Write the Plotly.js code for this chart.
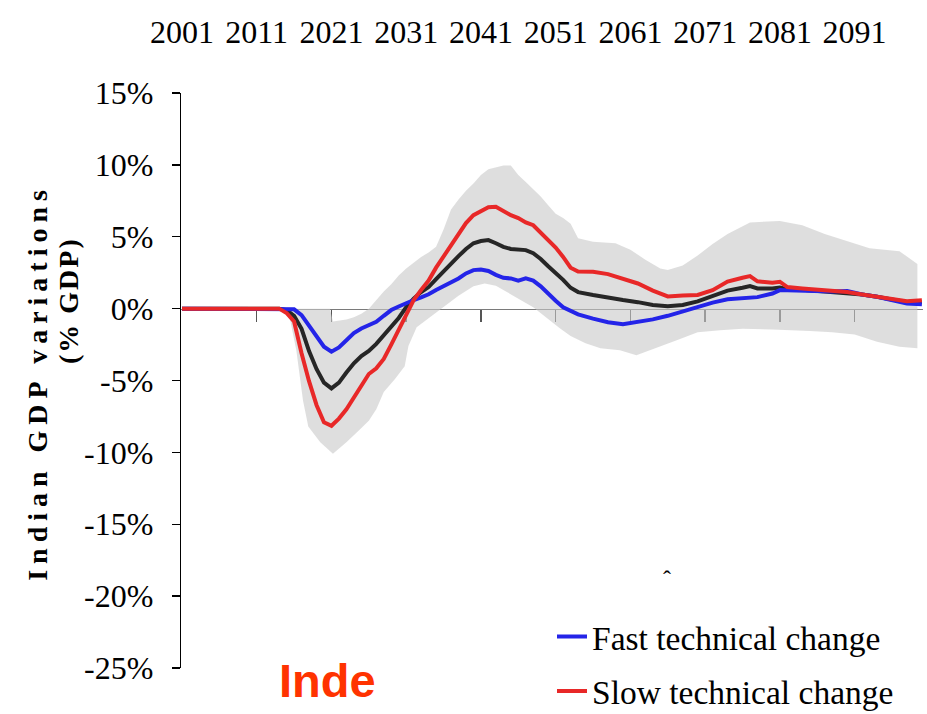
<!DOCTYPE html>
<html>
<head>
<meta charset="utf-8">
<script src="https://cdn.plot.ly/plotly-3.0.1.min.js"></script>
<style>body{margin:0;background:#fff}#chart{width:927px;height:714px}</style>
</head>
<body>
<div id="chart"></div>
<script>
// ---- data ----
const years = [2001, 2014, 2015, 2016, 2017, 2018, 2019, 2020, 2021, 2022, 2023, 2024, 2025, 2026, 2027, 2028, 2029, 2030,
  2031, 2032, 2033, 2034, 2035, 2036, 2037, 2038, 2039, 2040, 2041, 2042, 2043, 2044, 2045, 2046, 2047, 2048, 2049, 2050,
  2051, 2052, 2053, 2054, 2056, 2058, 2060, 2062, 2064, 2066, 2068, 2070, 2072, 2074, 2076, 2077, 2078, 2080, 2081, 2082,
  2084, 2086, 2088, 2090, 2092, 2094, 2096, 2098, 2100];

const slowChange = [0, 0, -0.3, -0.9, -3.1, -5.05, -6.7, -7.9, -8.15, -7.65, -7.0, -6.15, -5.3, -4.55, -4.15, -3.5, -2.5, -1.5,
  -0.45, 0.6, 1.3, 1.95, 2.85, 3.65, 4.4, 5.2, 5.95, 6.5, 6.8, 7.05, 7.08, 6.75, 6.5, 6.3, 6.0, 5.8, 5.3, 4.75,
  4.25, 3.6, 2.85, 2.58, 2.56, 2.4, 2.05, 1.75, 1.25, 0.85, 0.92, 0.95, 1.28, 1.88, 2.15, 2.26, 1.9, 1.8, 1.87, 1.5,
  1.4, 1.3, 1.2, 1.15, 0.98, 0.83, 0.65, 0.52, 0.58];

const centralCase = [0, 0, -0.1, -0.5, -1.4, -2.95, -4.2, -5.15, -5.55, -5.15, -4.45, -3.8, -3.3, -2.95, -2.45, -1.85, -1.2, -0.65,
  0.1, 0.7, 1.15, 1.5, 2.05, 2.6, 3.1, 3.65, 4.15, 4.55, 4.7, 4.77, 4.55, 4.3, 4.15, 4.08, 4.07, 3.85, 3.45, 2.95,
  2.5, 2.0, 1.45, 1.15, 0.95, 0.75, 0.6, 0.45, 0.25, 0.17, 0.25, 0.5, 0.85, 1.25, 1.45, 1.57, 1.4, 1.4, 1.47, 1.35,
  1.32, 1.25, 1.18, 1.12, 0.98, 0.83, 0.63, 0.45, 0.45];

const fastChange = [0, 0, 0, -0.05, -0.45, -1.15, -1.95, -2.65, -3.0, -2.7, -2.2, -1.7, -1.38, -1.17, -0.92, -0.5, -0.1, 0.15,
  0.4, 0.6, 0.78, 1.0, 1.3, 1.55, 1.8, 2.1, 2.45, 2.68, 2.72, 2.62, 2.35, 2.14, 2.1, 1.95, 2.1, 1.95, 1.55, 1.0,
  0.55, 0.1, -0.15, -0.4, -0.7, -0.95, -1.08, -0.95, -0.75, -0.5, -0.2, 0.15, 0.42, 0.65, 0.72, 0.75, 0.8, 1.05, 1.29, 1.27,
  1.24, 1.2, 1.2, 1.22, 0.98, 0.82, 0.6, 0.35, 0.31];

const bandUpperYears = [2014.6, 2016, 2018, 2020.8, 2021.2, 2022, 2023, 2024, 2025, 2026, 2027, 2028, 2029, 2030, 2031, 2032,
  2033, 2034, 2035, 2036, 2037, 2038, 2039, 2040, 2041, 2042, 2043, 2044, 2045, 2046, 2047, 2048, 2049, 2050, 2051, 2052,
  2053, 2054, 2056, 2059, 2061, 2063, 2065, 2066, 2068, 2070, 2072, 2074, 2077, 2081, 2084, 2087, 2090, 2093, 2097, 2099.4];
const bandUpper = [0, 0, 0, 0, -0.9, -0.85, -0.75, -0.6, -0.35, 0.0, 0.6, 1.2, 1.7, 2.3, 2.8, 3.2,
  3.6, 3.9, 4.3, 5.5, 6.9, 7.6, 8.2, 8.7, 9.3, 9.7, 9.85, 9.95, 9.95, 9.3, 8.8, 8.3, 7.8, 7.2, 6.6, 6.3,
  5.9, 4.9, 4.65, 4.55, 4.1, 3.4, 2.8, 2.68, 3.0, 3.7, 4.5, 5.2, 6.0, 6.1, 5.8, 5.2, 4.7, 4.2, 4.0, 3.1];

const bandLowerYears = [2014.6, 2015.4, 2016.3, 2017.2, 2017.9, 2019.5, 2021.2, 2023, 2024.8, 2026, 2027, 2028, 2029.5, 2030.8,
  2031.3, 2032.4, 2034.2, 2036, 2038, 2040, 2041.5, 2043, 2045, 2047, 2048, 2050, 2051.6, 2053, 2055, 2057, 2059.6, 2061.8,
  2064.5, 2067.2, 2070, 2073, 2076, 2080, 2085, 2088, 2091, 2094, 2097, 2099.4];
const bandLower = [0, -0.6, -2.9, -6.4, -8.2, -9.3, -10.1, -9.3, -8.4, -7.8, -7.0, -5.8, -4.9, -4.0,
  -2.6, -1.3, -0.6, 0.1, 0.9, 1.55, 1.75, 1.6, 1.0, 0.4, 0.1, -0.7, -1.38, -1.9, -2.4, -2.75, -2.9, -3.25,
  -2.75, -2.2, -1.65, -1.5, -1.4, -1.45, -1.55, -1.65, -1.8, -2.3, -2.65, -2.75];

const topTickYears = [2001, 2011, 2021, 2031, 2041, 2051, 2061, 2071, 2081, 2091];
const topTickLabels = ['2001', '2011', '2021', '2031', '2041', '2051', '2061', '2071', '2081', '2091'];
const zeroTickYears = [2011, 2021, 2031, 2041, 2051, 2061, 2071, 2081, 2091];
const yTickValues = [-25, -20, -15, -10, -5, 0, 5, 10, 15];
const yTickLabels = ['-25%', '-20%', '-15%', '-10%', '-5%', '0%', '5%', '10%', '15%'];
const seriesNames = ['Fast technical change', 'Slow technical change'];

// ---- chart ----
const serif = '"Liberation Serif", "DejaVu Serif", serif';
const xRange = [2000.87, 2100.15];

const traces = [
  {
    x: bandUpperYears.concat(bandLowerYears.slice().reverse()),
    y: bandUpper.concat(bandLower.slice().reverse()),
    type: 'scatter', mode: 'lines', fill: 'toself',
    fillcolor: 'rgba(200,200,200,0.6)', line: {width: 0},
    showlegend: false, hoverinfo: 'skip'
  },
  {x: [], y: [], xaxis: 'x2', type: 'scatter', mode: 'lines', showlegend: false, hoverinfo: 'skip'},
  {
    x: years, y: centralCase, type: 'scatter', mode: 'lines',
    line: {color: '#262626', width: 4}, showlegend: false
  },
  {
    x: years, y: fastChange, type: 'scatter', mode: 'lines', name: seriesNames[0],
    legendgroup: 'a', line: {color: '#2424E8', width: 4}
  },
  {
    x: years, y: slowChange, type: 'scatter', mode: 'lines', name: seriesNames[1],
    legendgroup: 'b', line: {color: '#E82828', width: 4}
  }
];

const layout = {
  width: 927, height: 714,
  margin: {l: 181, r: 4, t: 93, b: 46, autoexpand: false},
  paper_bgcolor: '#fff', plot_bgcolor: 'rgba(0,0,0,0)',
  font: {family: serif, color: '#000'},
  xaxis: {
    range: xRange, side: 'top', showline: false, showgrid: false, zeroline: false,
    tickmode: 'array', tickvals: topTickYears, ticktext: topTickLabels, ticks: '',
    tickfont: {family: serif, size: 32, color: '#000'}, ticklabelstandoff: 43
  },
  xaxis2: {
    range: xRange, overlaying: 'x', anchor: 'free', position: 0.625, side: 'bottom',
    showline: true, linecolor: '#7a7a7a', linewidth: 1.5, showgrid: false, zeroline: false,
    tickmode: 'array', tickvals: zeroTickYears, ticks: 'outside', ticklen: 12, tickwidth: 1.5,
    tickcolor: '#555', showticklabels: false, layer: 'below traces'
  },
  yaxis: {
    range: [-25, 15], showgrid: false, zeroline: false,
    showline: true, linecolor: '#000', linewidth: 1.3,
    ticks: 'outside', ticklen: 8, tickcolor: '#000', tickwidth: 1.3,
    tickmode: 'array', tickvals: yTickValues, ticktext: yTickLabels,
    tickfont: {family: serif, size: 32, color: '#000'}, ticklabelstandoff: 12,
    layer: 'below traces'
  },
  showlegend: true,
  legend: {
    x: 0.5, y: 0.104, xanchor: 'left', yanchor: 'top',
    bgcolor: 'rgba(0,0,0,0)', font: {family: serif, size: 33.5, color: '#000'},
    traceorder: 'grouped', tracegroupgap: 8
  },
  annotations: [
    {
      text: '<b>Indian GDP variations</b>', textangle: -90, xref: 'paper', yref: 'paper',
      x: -0.1927, y: 0.496, xanchor: 'center', yanchor: 'middle', showarrow: false,
      font: {family: serif, size: 28, color: '#000'}
    },
    {
      text: '<b>(% GDP)</b>', textangle: -90, xref: 'paper', yref: 'paper',
      x: -0.1523, y: 0.64, xanchor: 'center', yanchor: 'middle', showarrow: false,
      font: {family: serif, size: 28, color: '#000'}
    },
    {
      text: '<b>Inde</b>', xref: 'paper', yref: 'paper',
      x: 0.197, y: -0.021, xanchor: 'center', yanchor: 'middle', showarrow: false,
      font: {family: '"Liberation Sans", Arial, sans-serif', size: 47, color: '#FF3300'}
    },
    {
      text: 'ˆ', xref: 'paper', yref: 'paper',
      x: 0.655, y: 0.155, xanchor: 'center', yanchor: 'middle', showarrow: false,
      font: {family: serif, size: 24, color: '#000'}
    }
  ]
};

Plotly.newPlot('chart', traces, layout, {displayModeBar: false, staticPlot: true}).then(function (gd) {
  const texts = gd.querySelectorAll('.annotation-text');
  if (texts[0]) texts[0].style.letterSpacing = '6px';
  if (texts[1]) texts[1].style.letterSpacing = '2px';
});
</script>
</body>
</html>
